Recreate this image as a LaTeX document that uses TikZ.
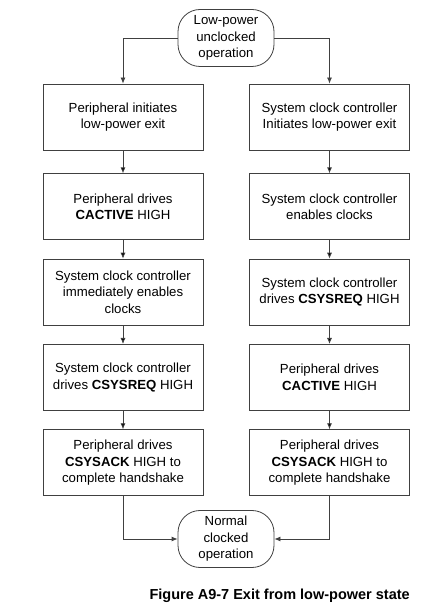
\documentclass[tikz,border=0pt]{standalone}
\usepackage{fontspec}
\setmainfont{Liberation Sans}
\usetikzlibrary{positioning, arrows.meta}

\begin{document}
\begin{tikzpicture}[x=1pt, y=1pt, >={Latex[length=6pt, width=5pt]}, node distance = 18.5pt,
    box/.style = {draw=black!75, line width=0.8pt, minimum width=160pt, minimum height=66pt,
      align=center, inner sep=0pt, font=\fontsize{13.2}{16.5}\selectfont},
    term/.style = {box, rounded corners=22pt, minimum width=96pt, minimum height=57pt},
    flow/.style = {draw=black!75, line width=0.8pt}]
    \useasboundingbox (0,0) rectangle (435,611);

    \node[term] (low) at (226,573) {Low-power\\unclocked\\operation};

    % peripheral side
    \node[box] (p1) at (123,494) {Peripheral initiates\\low-power exit};
    \node[box] (p2) [below = 23pt of p1] {Peripheral drives\\\textbf{CACTIVE} HIGH};
    \node[box] (p3) [below = of p2] {System clock controller\\immediately enables\\clocks};
    \node[box] (p4) [below = of p3] {System clock controller\\drives \textbf{CSYSREQ} HIGH};
    \node[box] (p5) [below = of p4] {Peripheral drives\\\textbf{CSYSACK} HIGH to\\complete handshake};

    % clock controller side
    \node[box] (s1) at (329.5,494) {System clock controller\\Initiates low-power exit};
    \node[box] (s2) [below = 23pt of s1] {System clock controller\\enables clocks};
    \node[box] (s3) [below = of s2] {System clock controller\\drives \textbf{CSYSREQ} HIGH};
    \node[box] (s4) [below = of s3] {Peripheral drives\\\textbf{CACTIVE} HIGH};
    \node[box] (s5) [below = of s4] {Peripheral drives\\\textbf{CSYSACK} HIGH to\\complete handshake};

    \node[term] (normal) at (226,72) {Normal\\clocked\\operation};

    \node[anchor=base west, font=\fontsize{14.5}{17}\selectfont\bfseries] (caption) at (146,12)
      {Figure A9-7 Exit from low-power state};

    \path[->, flow]
      (p1) edge (p2)
      (p2) edge (p3)
      (p3) edge (p4)
      (p4) edge (p5)
      (s1) edge (s2)
      (s2) edge (s3)
      (s3) edge (s4)
      (s4) edge (s5)
    ;
    \draw[->, flow] (low.west) -| (p1.north);
    \draw[->, flow] (low.east) -| (s1.north);
    \draw[->, flow] (p5.south) |- (normal.west);
    \draw[->, flow] (s5.south) |- (normal.east);
\end{tikzpicture}
\end{document}
